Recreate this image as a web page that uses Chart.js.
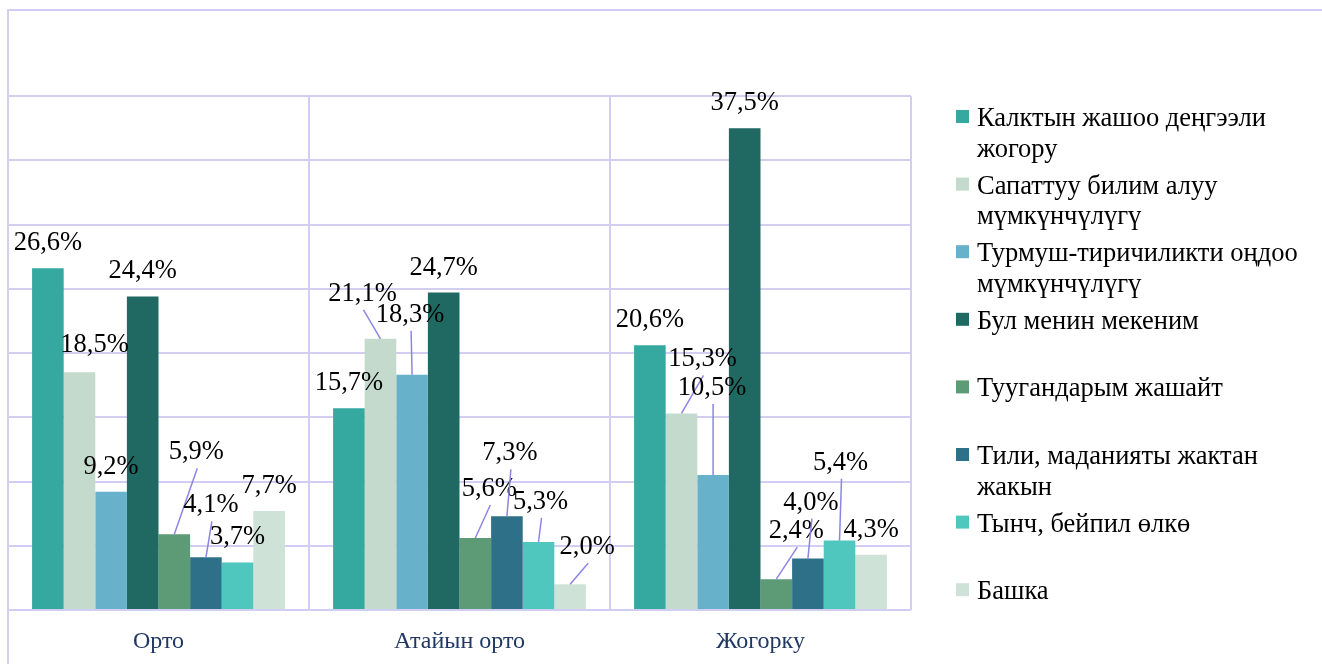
<!DOCTYPE html>
<html>
<head>
<meta charset="utf-8">
<script src="https://cdn.jsdelivr.net/npm/chart.js@4"></script>
<style>
  html, body { margin: 0; padding: 0; background: #fff; }
  #chart { display: block; }
</style>
</head>
<body>
<canvas id="chart" width="1322" height="664"></canvas>
<script>
// категориялар
const categories = ['Орто', 'Атайын орто', 'Жогорку'];

const seriesNames = [
  'Калктын жашоо деңгээли жогору',
  'Сапаттуу билим алуу мүмкүнчүлүгү',
  'Турмуш-тиричиликти оңдоо мүмкүнчүлүгү',
  'Бул менин мекеним',
  'Туугандарым жашайт',
  'Тили, маданияты жактан жакын',
  'Тынч, бейпил өлкө',
  'Башка'
];

// маанилер (%)
const livingStandard = [26.6, 15.7, 20.6];
const education = [18.5, 21.1, 15.3];
const livelihood = [9.2, 18.3, 10.5];
const homeland = [24.4, 24.7, 37.5];
const relatives = [5.9, 5.6, 2.4];
const language = [4.1, 7.3, 4.0];
const peaceful = [3.7, 5.3, 5.4];
const other = [7.7, 2.0, 4.3];

const yMax = 40;
const yStep = 5;

const seriesValues = [livingStandard, education, livelihood, homeland, relatives, language, peaceful, other];
const seriesColors = ['#35A9A0', '#C3DACD', '#67B1CA', '#1F6962', '#5D9A76', '#2E7088', '#4FC7BF', '#CFE2D7'];

// label nudges [dx, dy] per series / category (Excel moved some labels by hand)
const labelShift = [
  [[0, 0], [0, 0], [0, 0]],
  [[15, -2], [-18, -20], [21, -29]],
  [[0, 0], [-2, -35], [-1, -62]],
  [[0, 0], [0, 0], [0, 0]],
  [[22, -57], [14, -24], [20, -23]],
  [[5, -27], [3, -38], [3, -31]],
  [[0, 0], [2, -15], [1, -53]],
  [[0, 0], [17, -12], [0, 0]]
];

const gridColor = '#D2CEF2';
const leaderColor = '#8B86E4';
const serif = '"Liberation Serif", "Times New Roman", serif';

function fmt(v) {
  return v.toFixed(1).replace('.', ',') + '%';
}

// рамка
const framePlugin = {
  id: 'frame',
  beforeDraw(chart) {
    const ctx = chart.ctx;
    ctx.save();
    ctx.strokeStyle = gridColor;
    ctx.lineWidth = 2;
    ctx.beginPath();
    ctx.moveTo(chart.width, 10);
    ctx.lineTo(8, 10);
    ctx.lineTo(8, chart.height);
    ctx.stroke();
    ctx.restore();
  }
};

// маалымат белгилери
const valueLabels = {
  id: 'valueLabels',
  afterDatasetsDraw(chart) {
    const ctx = chart.ctx;
    ctx.save();
    ctx.font = '26.5px ' + serif;
    ctx.textAlign = 'center';
    ctx.textBaseline = 'alphabetic';
    chart.data.datasets.forEach((ds, i) => {
      const meta = chart.getDatasetMeta(i);
      meta.data.forEach((bar, j) => {
        const sh = labelShift[i][j];
        const lx = bar.x + sh[0];
        const ly = bar.y - 27 + sh[1];
        if (bar.y - (ly + 18) > 15) {
          ctx.strokeStyle = leaderColor;
          ctx.lineWidth = 1.5;
          ctx.beginPath();
          ctx.moveTo(lx + 1, ly + 18);
          ctx.lineTo(bar.x, bar.y);
          ctx.stroke();
        }
        ctx.fillStyle = '#000';
        ctx.fillText(fmt(ds.data[j]), lx, ly + 9);
      });
    });
    ctx.restore();
  }
};

// легенда оң жакта
const sideLegend = {
  id: 'sideLegend',
  afterDraw(chart) {
    const ctx = chart.ctx;
    const boxX = 956, textX = 977, firstTop = 110, slot = 67.6, lineH = 30.5;
    const maxW = chart.width - textX - 8;
    ctx.save();
    ctx.font = '26.5px ' + serif;
    ctx.textAlign = 'left';
    ctx.textBaseline = 'alphabetic';
    chart.data.datasets.forEach((ds, i) => {
      const top = firstTop + slot * i;
      ctx.fillStyle = ds.backgroundColor;
      ctx.fillRect(boxX, top, 13, 13);
      // wrap
      const words = ds.label.split(' ');
      const lines = [];
      let cur = '';
      words.forEach(w => {
        const test = cur ? cur + ' ' + w : w;
        if (ctx.measureText(test).width > maxW && cur) {
          lines.push(cur);
          cur = w;
        } else {
          cur = test;
        }
      });
      lines.push(cur);
      ctx.fillStyle = '#000';
      lines.forEach((ln, k) => ctx.fillText(ln, textX, top + 16 + k * lineH));
    });
    ctx.restore();
  }
};

const datasets = seriesNames.map((name, i) => ({
  label: name,
  data: seriesValues[i],
  backgroundColor: seriesColors[i],
  borderWidth: 0
}));

new Chart(document.getElementById('chart'), {
  type: 'bar',
  data: { labels: categories, datasets: datasets },
  options: {
    responsive: false,
    devicePixelRatio: 1,
    animation: false,
    layout: { padding: { left: 8, top: 96, right: 411, bottom: 8 } },
    datasets: { bar: { barPercentage: 1, categoryPercentage: 0.84 } },
    plugins: {
      legend: { display: false },
      tooltip: { enabled: false }
    },
    scales: {
      x: {
        grid: { color: gridColor, lineWidth: 2, drawTicks: false, offset: true },
        border: { display: false },
        ticks: {
          color: '#1F3864',
          font: { family: serif, size: 24 },
          padding: 17
        },
        afterFit(scale) {
          scale.height = 46;
        }
      },
      y: {
        min: 0,
        max: yMax,
        ticks: { display: false, stepSize: yStep },
        grid: { color: gridColor, lineWidth: 2, drawTicks: false },
        border: { display: false }
      }
    }
  },
  plugins: [framePlugin, valueLabels, sideLegend]
});
</script>
</body>
</html>
